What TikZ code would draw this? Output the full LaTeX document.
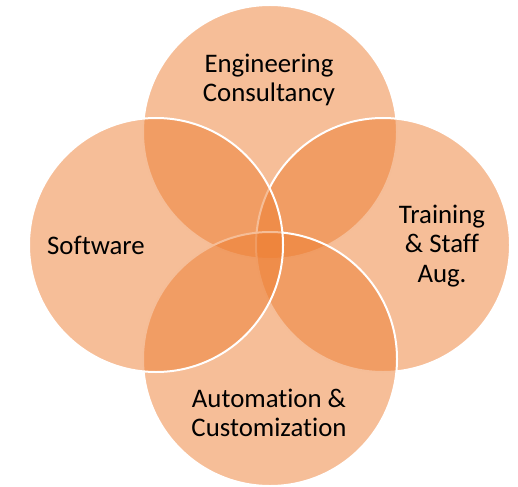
\documentclass[tikz,border=0pt]{standalone}
\usepackage{fontspec}
\setmainfont[Ligatures=NoCommon]{Carlito}
\definecolor{accent}{HTML}{ED7D31}
\begin{document}
\begin{tikzpicture}[x=1pt,y=-1pt,
  venn/.style={fill=accent, fill opacity=0.5, draw=white, draw opacity=1, line width=2pt},
  lbl/.style={text=black, align=center, font=\fontsize{26.8}{29.5}\selectfont, inner sep=0pt}]
\useasboundingbox (0,0) rectangle (518,486);
\path[venn] (270,132) circle (127);
\path[venn] (383,245) circle (127);
\path[venn] (270,359) circle (127);
\path[venn] (156,245) circle (127);
\node[lbl] (eng) at (269,80) {Engineering\\Consultancy};
\node[lbl] (sw) at (96,245) {Software};
\node[lbl] (tr) at (442,246) {Training\\\&~Staff\\Aug.};
\node[lbl] (au) at (269,413) {Automation \&\\Customization};
\end{tikzpicture}
\end{document}
